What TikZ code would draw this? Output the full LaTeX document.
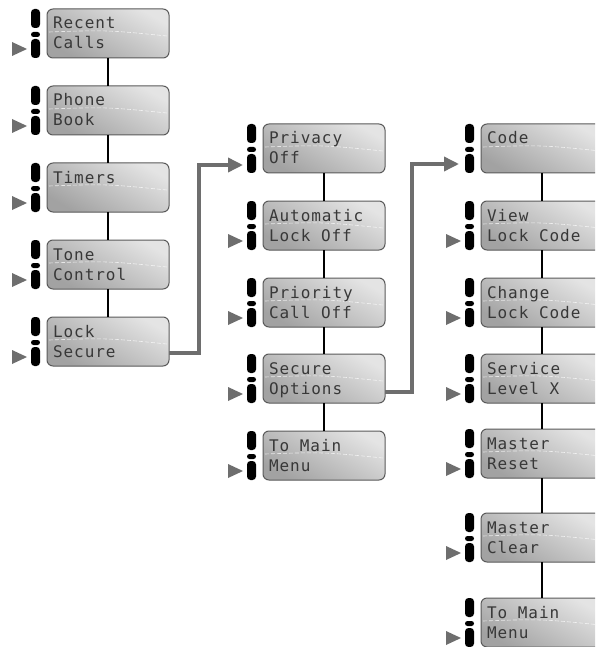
\documentclass[tikz,border=0pt]{standalone}
\usepackage{fontspec}
\newfontfamily\lcdfont[LetterSpace=6]{DejaVu Sans Mono}
\usetikzlibrary{arrows.meta,calc}
\definecolor{boxline}{HTML}{5A5A5A}
\definecolor{linkgray}{HTML}{6E6E6E}
\definecolor{boxlight}{HTML}{E4E4E4}
\definecolor{boxdark}{HTML}{A2A2A2}
\tikzset{
  menubox/.style={draw=boxline, line width=1pt, rounded corners=6pt,
    minimum width=122pt, minimum height=49pt, inner sep=0pt, outer sep=0pt,
    top color=boxlight, bottom color=boxdark, shading angle=-30},
  lcdtext/.style={font=\lcdfont\fontsize{16}{16}\selectfont, text=black!78,
    anchor=base west, inner sep=0pt, outer sep=0pt},
  blob/.style={rectangle, fill=black, rounded corners=3.5pt, minimum width=9pt,
    minimum height=19pt, inner sep=0pt, outer sep=0pt},
  dotblob/.style={rectangle, fill=black, rounded corners=2.5pt, minimum width=9pt,
    minimum height=5pt, inner sep=0pt, outer sep=0pt},
  glare/.style={white, opacity=0.7, line width=0.6pt, dash pattern=on 4pt off 2pt},
  vlink/.style={line width=2pt, black},
  link/.style={line width=3.5pt, linkgray, -{Triangle[length=15pt,width=14pt]}},
  ptr/.style={fill=linkgray},
}
\newcommand\menuitem[5]{%
  \node[menubox] (#1) at (#2,#3+24.5) {};
  \draw[glare] ($(#1.north west)+(2,23)$) .. controls ($(#1.north west)+(60,21)$) .. ($(#1.north east)+(-2,27)$);
  \node[lcdtext] (#1-l1) at ($(#1.north west)+(6,20)$) {#4};
  \node[lcdtext] (#1-l2) at ($(#1.north west)+(6,40)$) {#5};
  \node[blob] (#1-a) at ($(#1.north west)+(-11.5,9.5)$) {};
  \node[dotblob] (#1-d) at ($(#1.north west)+(-11.5,25.5)$) {};
  \node[blob] (#1-b) at ($(#1.north west)+(-11.5,39.5)$) {};
}
\newcommand\ptrto[1]{%
  \fill[ptr] ($(#1.north west)+(-35,33)$) -- ($(#1.north west)+(-20,40)$) -- ($(#1.north west)+(-35,47)$) -- cycle;
}
\begin{document}
\begin{tikzpicture}[x=1pt,y=-1pt]
\clip (0,0) rectangle (595,647);
\fill[white] (0,0) rectangle (595,647);
% column 1
\menuitem{recent}{108}{9}{Recent}{Calls}
\menuitem{phone}{108}{86}{Phone}{Book}
\menuitem{timers}{108}{163}{Timers}{}
\menuitem{tone}{108}{240}{Tone}{Control}
\menuitem{lock}{108}{317}{Lock}{Secure}
% column 2
\menuitem{privacy}{324}{124}{Privacy}{Off}
\menuitem{auto}{324}{201}{Automatic}{Lock Off}
\menuitem{priority}{324}{278}{Priority}{Call Off}
\menuitem{secure}{324}{354}{Secure}{Options}
\menuitem{mainA}{324}{431}{To Main}{Menu}
% column 3
\menuitem{code}{542}{124}{Code}{}
\menuitem{view}{542}{201}{View}{Lock Code}
\menuitem{change}{542}{278}{Change}{Lock Code}
\menuitem{service}{542}{354}{Service}{Level X}
\menuitem{reset}{542}{429}{Master}{Reset}
\menuitem{clear}{542}{513}{Master}{Clear}
\menuitem{mainB}{542}{598}{To Main}{Menu}
% pointers
\foreach \n in {recent,phone,timers,tone,lock,auto,priority,secure,mainA,view,change,service,reset,clear,mainB}{\ptrto{\n}}
% vertical connectors
\draw[vlink] (recent) -- (phone);
\draw[vlink] (phone) -- (timers);
\draw[vlink] (timers) -- (tone);
\draw[vlink] (tone) -- (lock);
\draw[vlink] (privacy) -- (auto);
\draw[vlink] (auto) -- (priority);
\draw[vlink] (priority) -- (secure);
\draw[vlink] (secure) -- (mainA);
\draw[vlink] (code) -- (view);
\draw[vlink] (view) -- (change);
\draw[vlink] (change) -- (service);
\draw[vlink] (service) -- (reset);
\draw[vlink] (reset) -- (clear);
\draw[vlink] (clear) -- (mainB);
% submenu links
\coordinate (privin) at ($(privacy.north west)+(-20,41)$);
\coordinate (codein) at ($(code.north west)+(-22,40)$);
\draw[link] ($(lock.north east)+(0,36)$) -- ++(30,0) |- (privin);
\draw[link] ($(secure.north east)+(0,38)$) -- ++(27,0) |- (codein);
\end{tikzpicture}
\end{document}
